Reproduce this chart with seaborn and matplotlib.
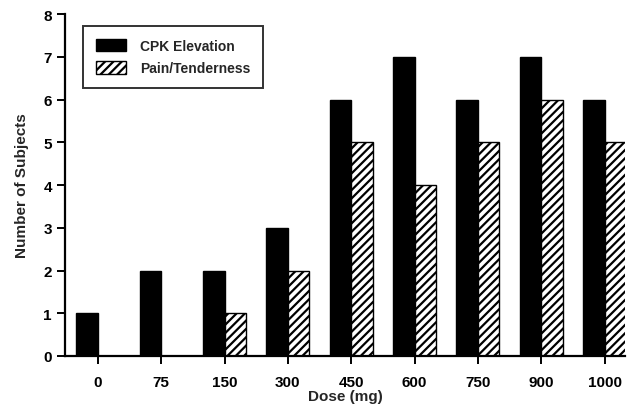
import matplotlib
matplotlib.use("Agg")
import matplotlib.pyplot as plt
import seaborn as sns
import pandas as pd

doses = ["0", "75", "150", "300", "450", "600", "750", "900", "1000"]
cpk_elevation = [1, 2, 2, 3, 6, 7, 6, 7, 6]
pain_tenderness = [0, 0, 1, 2, 5, 4, 5, 6, 5]
series_names = ["CPK Elevation", "Pain/Tenderness"]

df = pd.DataFrame({
    "Dose": doses * 2,
    "Count": cpk_elevation + pain_tenderness,
    "Series": [series_names[0]] * len(doses) + [series_names[1]] * len(doses),
})

sns.set_style("ticks")
plt.rcParams["font.family"] = ["Liberation Sans", "DejaVu Sans"]
plt.rcParams["hatch.linewidth"] = 1.6

fig = plt.figure(figsize=(6.33, 4.10), dpi=100)
ax = fig.add_axes([0.1027, 0.1293, 0.8843, 0.8337])

sns.barplot(data=df, x="Dose", y="Count", hue="Series", order=doses,
            hue_order=series_names, palette=["black", "white"],
            width=0.68, gap=0, edgecolor="black", linewidth=1.0,
            errorbar=None, ax=ax, saturation=1)

n = len(doses)
for i, p in enumerate(ax.patches[:2 * n]):
    if i >= n:
        p.set_hatch("////")
        p.set_facecolor("white")
        p.set_edgecolor("black")

ax.set_xlim(-0.52, 8.32)
ax.set_ylim(0, 8)
ax.set_yticks(range(0, 9))
sns.despine(ax=ax)
for s in ["left", "bottom"]:
    ax.spines[s].set_linewidth(1.6)
    ax.spines[s].set_color("black")
ax.tick_params(axis="both", direction="out", length=6, width=1.4,
               labelsize=11, colors="black")
ax.tick_params(axis="x", pad=8)
ax.set_xlabel("Dose (mg)", fontsize=11, fontweight="bold", labelpad=0)
ax.set_ylabel("Number of Subjects", fontsize=11, fontweight="bold", labelpad=10)
for t in ax.get_xticklabels() + ax.get_yticklabels():
    t.set_fontweight("bold")

leg = ax.legend(loc="upper left", bbox_to_anchor=(0.02, 0.985), frameon=True,
                fancybox=False, edgecolor="black", fontsize=10,
                handlelength=2.2, handleheight=1.0, borderpad=0.9,
                labelspacing=0.6, handletextpad=1.0)
leg.get_frame().set_linewidth(1.4)
for h in leg.legend_handles:
    h.set_edgecolor("black")
leg.legend_handles[1].set_hatch("////")
leg.legend_handles[1].set_facecolor("white")
for t in leg.get_texts():
    t.set_fontweight("bold")

fig.savefig("out.png", dpi=100)
